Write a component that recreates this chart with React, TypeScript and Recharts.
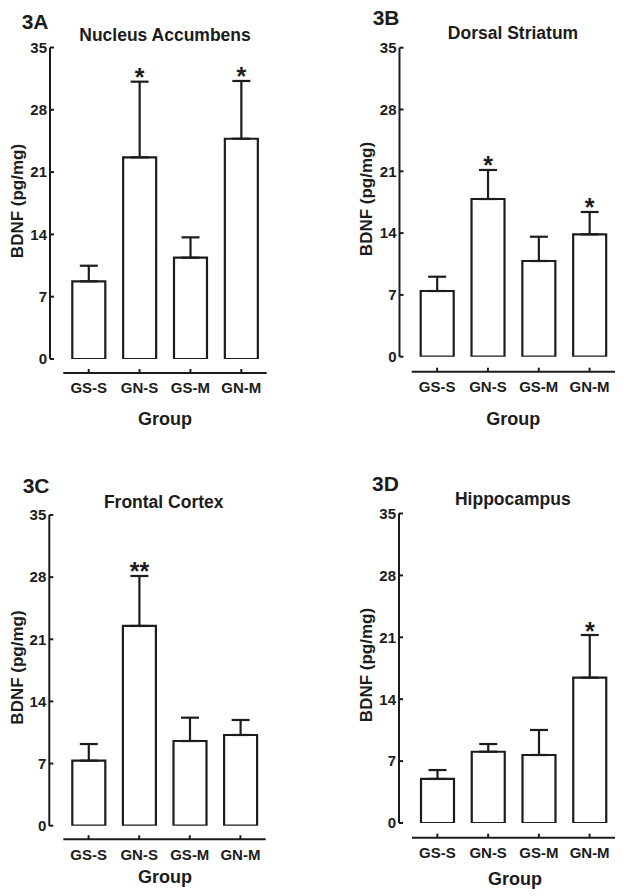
import React from 'react';
import { BarChart, Bar, XAxis, YAxis, ErrorBar, LabelList } from 'recharts';

// ---------- data ----------
const groups = ['GS-S', 'GN-S', 'GS-M', 'GN-M'];
const yTicks = [0, 7, 14, 21, 28, 35];

const meanA = [8.73, 22.66, 11.38, 24.75];
const errA = [1.75, 8.5, 2.29, 6.49];
const sigA = ['', '*', '', '*'];

const meanB = [7.44, 17.86, 10.84, 13.86];
const errB = [1.62, 3.29, 2.75, 2.53];
const sigB = ['', '*', '', '*'];

const meanC = [7.32, 22.5, 9.54, 10.22];
const errC = [1.88, 5.63, 2.63, 1.69];
const sigC = ['', '**', '', ''];

const meanD = [4.98, 8.06, 7.69, 16.43];
const errD = [1.01, 0.87, 2.83, 4.83];
const sigD = ['', '', '', '*'];

const panelLetters = ['3A', '3B', '3C', '3D'];
const panelTitles = ['Nucleus Accumbens', 'Dorsal Striatum', 'Frontal Cortex', 'Hippocampus'];
const yLabel = 'BDNF (pg/mg)';
const xLabel = 'Group';

// ---------- styling ----------
const INK = '#1c1c1c';
const FONT = '"Liberation Sans", Arial, Helvetica, sans-serif';

type Row = { group: string; mean: number; err: [number, number]; errVal: number; sig: string };

const buildRows = (means: number[], errs: number[], sigs: string[]): Row[] =>
  groups.map((g, i) => ({ group: g, mean: means[i], err: [0, errs[i]], errVal: errs[i], sig: sigs[i] }));

const layouts = [
  {
    box: { x: 0, y: 0, w: 312, h: 440 },
    plot: { l: 63.3, r: 266.7, t: 47.5, b: 359 },
    axisX: 50, axisY: 373,
    letter: { x: 21.7, y: 28.5 }, title: { x: 165, y: 40.7 },
    yLab: { x: 23, y: 201 }, xLab: { x: 165, y: 424.5 },
  },
  {
    box: { x: 312, y: 0, w: 312, h: 440 },
    plot: { l: 411.7, r: 615, t: 47.7, b: 356.7 },
    axisX: 399.5, axisY: 371.7,
    letter: { x: 372.7, y: 24.5 }, title: { x: 513, y: 39.3 },
    yLab: { x: 372, y: 199 }, xLab: { x: 513.2, y: 424.5 },
  },
  {
    box: { x: 0, y: 448, w: 312, h: 448 },
    plot: { l: 63.3, r: 265.7, t: 515, b: 825.7 },
    axisX: 49.3, axisY: 839.3,
    letter: { x: 22.7, y: 492.7 }, title: { x: 163.7, y: 508.3 },
    yLab: { x: 23, y: 667.5 }, xLab: { x: 165, y: 883.3 },
  },
  {
    box: { x: 312, y: 448, w: 312, h: 448 },
    plot: { l: 412, r: 615, t: 513.5, b: 823 },
    axisX: 399, axisY: 837.7,
    letter: { x: 372, y: 490.7 }, title: { x: 512.8, y: 505 },
    yLab: { x: 372, y: 665 }, xLab: { x: 515, y: 885 },
  },
];

const panelRows = [
  buildRows(meanA, errA, sigA),
  buildRows(meanB, errB, sigB),
  buildRows(meanC, errC, sigC),
  buildRows(meanD, errD, sigD),
];

const makeSigRenderer = (rows: Row[]) => (props: any) => {
  const { index, value } = props;
  if (!value) return null;
  const vb = props.viewBox || props;
  const x = Number(vb.x);
  const y = Number(vb.y);
  const width = Number(vb.width);
  const height = Number(vb.height);
  const row = rows[index];
  if (!row) return null;
  const pxPerUnit = height / row.mean;
  const topY = y - row.errVal * pxPerUnit;
  return (
    <text
      x={x + width / 2}
      y={topY + 4.5}
      textAnchor="middle"
      fontSize={25}
      fontWeight={700}
      fontFamily={FONT}
      fill={INK}
    >
      {value}
    </text>
  );
};

function Panel({ rows, layout }: { rows: Row[]; layout: (typeof layouts)[number] }) {
  const { box, plot, axisX, axisY } = layout;
  const yW = 40;
  const xH = 60;
  const margin = {
    left: plot.l - box.x - yW,
    top: plot.t - box.y,
    right: box.x + box.w - plot.r,
    bottom: box.y + box.h - plot.b - xH,
  };
  const yShift = axisX - plot.l;
  const xShift = axisY - plot.b;
  return (
    <div style={{ position: 'absolute', left: box.x, top: box.y, width: box.w, height: box.h }}>
      <BarChart width={box.w} height={box.h} data={rows} margin={margin} barSize={33}>
        <XAxis
          dataKey="group"
          height={xH}
          interval={0}
          tickSize={-4}
          tickMargin={xShift + 13.8}
          axisLine={{ stroke: INK, strokeWidth: 2, transform: `translate(0,${xShift})` }}
          tickLine={{ stroke: INK, strokeWidth: 2, transform: `translate(0,${xShift})` }}
          tick={{ fill: INK, fontSize: 15, fontWeight: 700, fontFamily: FONT }}
        />
        <YAxis
          type="number"
          width={yW}
          domain={[0, 35]}
          ticks={yTicks}
          interval={0}
          allowDataOverflow
          tickSize={-4}
          tickMargin={-yShift + 7}
          axisLine={{ stroke: INK, strokeWidth: 2, transform: `translate(${yShift},0)` }}
          tickLine={{ stroke: INK, strokeWidth: 2, transform: `translate(${yShift},0)` }}
          tick={{ fill: INK, fontSize: 15, fontWeight: 700, fontFamily: FONT }}
        />
        <Bar dataKey="mean" fill="#ffffff" stroke={INK} strokeWidth={2.2} isAnimationActive={false}>
          <ErrorBar dataKey="err" width={9} strokeWidth={2.2} stroke={INK} direction="y" isAnimationActive={false} />
          <LabelList dataKey="sig" content={makeSigRenderer(rows)} />
        </Bar>
      </BarChart>
    </div>
  );
}

export default function App() {
  return (
    <div
      style={{
        position: 'absolute',
        left: 0,
        top: 0,
        width: 624,
        height: 896,
        background: '#ffffff',
        fontFamily: FONT,
      }}
    >
      {layouts.map((lay, i) => (
        <Panel key={i} rows={panelRows[i]} layout={lay} />
      ))}
      <svg
        width={624}
        height={896}
        style={{ position: 'absolute', left: 0, top: 0, pointerEvents: 'none' }}
      >
        {layouts.map((lay, i) => (
          <g key={i} fontFamily={FONT} fontWeight={700} fill={INK}>
            <text x={lay.letter.x} y={lay.letter.y} fontSize={21}>
              {panelLetters[i]}
            </text>
            <text x={lay.title.x} y={lay.title.y} fontSize={17.5} textAnchor="middle">
              {panelTitles[i]}
            </text>
            <text
              transform={`translate(${lay.yLab.x},${lay.yLab.y}) rotate(-90)`}
              fontSize={17}
              textAnchor="middle"
            >
              {yLabel}
            </text>
            <text x={lay.xLab.x} y={lay.xLab.y} fontSize={18} textAnchor="middle">
              {xLabel}
            </text>
          </g>
        ))}
      </svg>
    </div>
  );
}
